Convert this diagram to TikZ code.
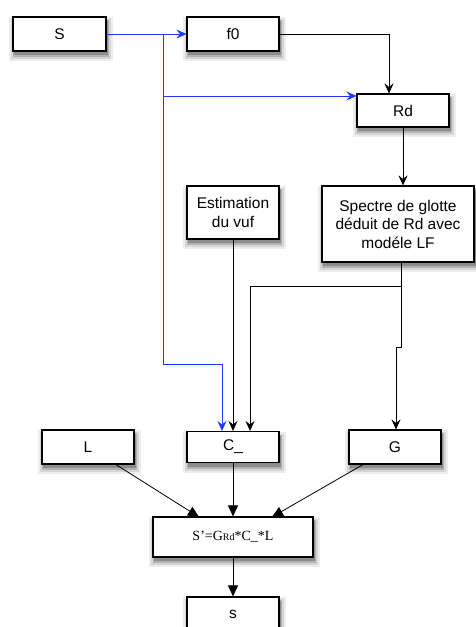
\documentclass[tikz,border=0pt]{standalone}
\usepackage{fontspec}
\setmainfont{Liberation Sans}
\newfontfamily\serifface{Liberation Serif}
\usetikzlibrary{arrows.meta}
\tikzset{
  box/.style={draw=black, line width=1.1pt, fill=white, align=center, inner sep=1pt,
    font=\fontsize{15.5}{18.5}\selectfont},
  flow/.style={line width=0.8pt, -{Stealth[length=10pt,width=9pt,inset=3.5pt]}},
  blueflow/.style={flow, draw={rgb,255:red,30;green,60;blue,255}},
  tri/.style={line width=0.8pt, -{Triangle[length=11pt,width=10pt]}}
}
% shadow under a box: centre x, centre y, width, height
\newcommand{\shadowbox}[4]{%
  \fill[color=black!7] (#1-#3/2-4, #2-#4/2) rectangle (#1+#3/2+7, #2+#4/2+10);
  \fill[color=black!16] (#1-#3/2-2, #2-#4/2+2) rectangle (#1+#3/2+5, #2+#4/2+8);
  \fill[color=black!30] (#1-#3/2, #2-#4/2+3) rectangle (#1+#3/2+3, #2+#4/2+6);
  \fill[color=black!45] (#1-#3/2+1, #2-#4/2+4) rectangle (#1+#3/2+1.5, #2+#4/2+4);
}
\begin{document}
\begin{tikzpicture}[x=1pt,y=-1pt]
\useasboundingbox (0,0) rectangle (476,627);
\shadowbox{59.5}{34}{93}{34}
\shadowbox{233}{34}{92}{34}
\shadowbox{403}{110.5}{92}{33}
\shadowbox{233}{212.5}{92}{53}
\shadowbox{398}{224}{152}{76}
\shadowbox{88}{447}{92}{34}
\shadowbox{233}{447}{92}{31}
\shadowbox{395}{447}{92}{34}
\shadowbox{233}{537}{160}{40}
\shadowbox{233}{614}{92}{34}
\node[box, minimum width=93pt, minimum height=34pt] (S) at (59.5,34) {S};
\node[box, minimum width=92pt, minimum height=34pt] (f0) at (233,34) {f0};
\node[box, minimum width=92pt, minimum height=33pt] (Rd) at (403,110.5) {Rd};
\node[box, minimum width=92pt, minimum height=53pt] (Est) at (233,212.5) {Estimation\\du vuf};
\node[box, minimum width=152pt, minimum height=76pt] (Sp) at (398,224) {Spectre de glotte\\déduit de Rd avec\\modéle LF};
\node[box, minimum width=92pt, minimum height=34pt] (L) at (88,447) {L};
\node[box, minimum width=92pt, minimum height=31pt] (C) at (233,447) {C\_};
\node[box, minimum width=92pt, minimum height=34pt] (G) at (395,447) {G};
\node[box, minimum width=160pt, minimum height=40pt, font=\serifface\fontsize{14}{17}\selectfont] (Sp2) at (233,537) {S’=G{\fontsize{10}{12}\selectfont Rd}*C\_*L};
\node[box, minimum width=92pt, minimum height=34pt] (s) at (233,614) {s};

\coordinate (b1) at (163,34);
\coordinate (b2) at (163,96);
\coordinate (b3) at (163,364);
\coordinate (b4) at (222,364);
\coordinate (k1) at (389,34);
\coordinate (rdx) at (403,0);
\coordinate (sp1) at (401,286);
\coordinate (sp2) at (250,286);
\coordinate (sp3) at (401,347);
\coordinate (sp4) at (396,347);

\draw[blueflow] (S.east) -- (f0.west);
\draw[blueflow] (b1) -- (b2) -- (Rd.west |- b2);
\draw[blueflow] (b2) -- (b3) -- (b4) -- (b4 |- C.north);
\draw[flow] (f0.east) -- (k1) -- (k1 |- Rd.north);
\draw[flow] (Rd.south -| rdx) -- (Sp.north -| rdx);
\draw[flow] (Est.south) -- (C.north);
\draw[flow] (Sp.south -| sp1) -- (sp1) -- (sp2) -- (sp2 |- C.north);
\draw[flow] (sp1) -- (sp3) -- (sp4) -- (sp4 |- G.north);
\draw[tri] (115,464) -- (199,517);
\draw[tri] (C.south) -- (Sp2.north);
\draw[tri] (364,464) -- (272,517);
\draw[tri] (Sp2.south) -- (s.north);
\end{tikzpicture}
\end{document}
